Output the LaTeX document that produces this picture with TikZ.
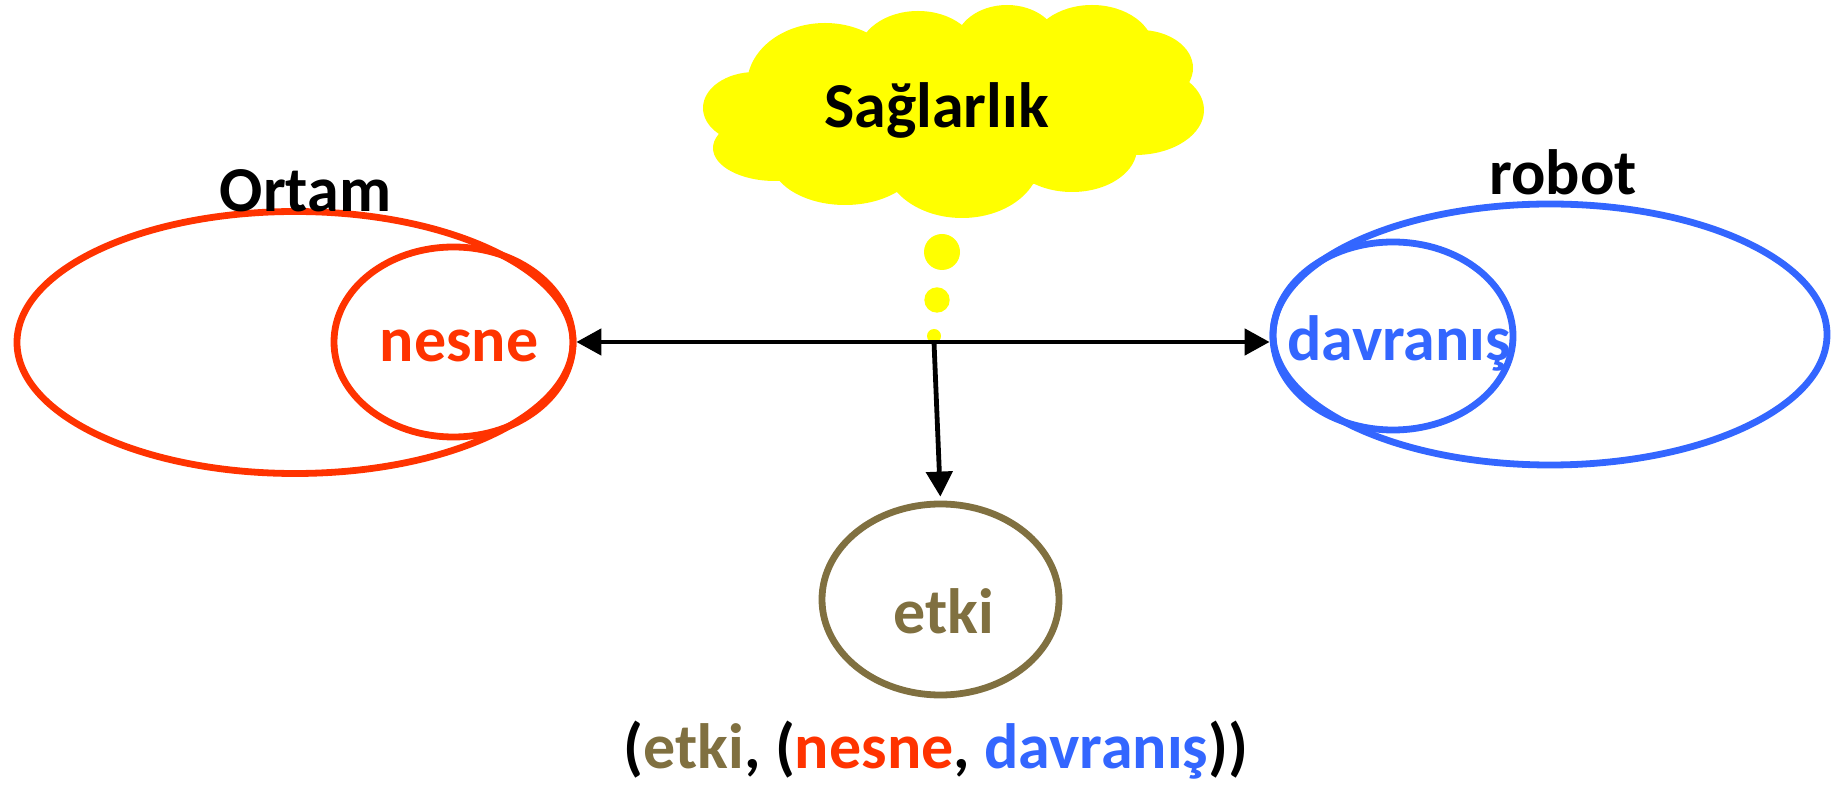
\documentclass[tikz,border=0pt]{standalone}
\usepackage{fontspec}
\setmainfont{Carlito}
\usetikzlibrary{shapes.geometric,arrows.meta}
\definecolor{cred}{RGB}{255,51,0}
\definecolor{cblue}{RGB}{51,102,255}
\definecolor{cbrown}{RGB}{128,112,64}
\definecolor{cyel}{RGB}{255,255,0}
\tikzset{
  ell/.style={ellipse, draw, line width=3.4pt, inner sep=0pt},
  lbl/.style={font=\fontsize{32pt}{38pt}\selectfont\bfseries, anchor=base, inner sep=0pt},
  dot/.style={circle, fill=cyel, draw=none, inner sep=0pt},
  puff/.style={fill=cyel},
  arr/.style={line width=2.4pt, -{Triangle[length=12.5pt,width=13pt]}},
  darr/.style={line width=2.4pt, {Triangle[length=12.5pt,width=13pt]}-{Triangle[length=12.5pt,width=13pt]}},
}
\begin{document}
\begin{tikzpicture}[x=0.5pt,y=-0.5pt]
\useasboundingbox (0,0) rectangle (1831,785);
% cloud
\fill[puff] (955,115) ellipse [x radius=100pt, y radius=37.5pt];
\fill[puff] (825,85) ellipse [x radius=39pt, y radius=31pt];
\fill[puff] (918,55) ellipse [x radius=30pt, y radius=22pt];
\fill[puff] (1007,45) ellipse [x radius=26pt, y radius=20pt];
\fill[puff] (1092,50) ellipse [x radius=31pt, y radius=22.5pt];
\fill[puff] (1140,68) ellipse [x radius=26.5pt, y radius=19pt];
\fill[puff] (1135,110) ellipse [x radius=34.5pt, y radius=22.5pt];
\fill[puff] (1072,148) ellipse [x radius=32.5pt, y radius=22pt];
\fill[puff] (962,160) ellipse [x radius=39pt, y radius=29pt];
\fill[puff] (845,158) ellipse [x radius=37.5pt, y radius=23.5pt];
\fill[puff] (775,148) ellipse [x radius=31pt, y radius=16.5pt];
\fill[puff] (755,108) ellipse [x radius=26pt, y radius=18pt];
\node[lbl] (sag) at (936.5,128) {Sağlarlık};
% thought dots
\node[dot, minimum size=18pt] (d1) at (942,252) {};
\node[dot, minimum size=12.7pt] (d2) at (937,300) {};
\node[dot, minimum size=7pt] (d3) at (934,336) {};
% ellipses
\node[ell, draw=cred, minimum width=278pt, minimum height=131pt] (ortam) at (295,342.5) {};
\node[ell, draw=cred, minimum width=119.5pt, minimum height=95pt] (nesne) at (453.5,342) {};
\node[ell, draw=cblue, minimum width=277pt, minimum height=130.5pt] (robot) at (1550,334.5) {};
\node[ell, draw=cblue, minimum width=120pt, minimum height=94pt] (davranis) at (1393,336) {};
\node[ell, draw=cbrown, minimum width=118.5pt, minimum height=95.5pt] (etki) at (940.5,599.5) {};
% labels
\node[lbl] (ortamlbl) at (305.5,212) {Ortam};
\node[lbl] (robotlbl) at (1563,195) {robot};
\node[lbl, text=cred] (nesnelbl) at (459,362) {nesne};
\node[lbl, text=cblue] (davlbl) at (1399,361) {davranış};
\node[lbl, text=cbrown] (etkilbl) at (944,633) {etki};
\node[lbl] (formula) at (936,768) {(\textcolor{cbrown}{etki}, (\textcolor{cred}{nesne}, \textcolor{cblue}{davranış}))};
% connectors
\coordinate (j) at (934,342);
\draw[darr] (nesne.east) -- (nesne.east -| davranis.west);
\draw[arr, shorten >=2pt] (j) -- (etki.north);
\end{tikzpicture}
\end{document}
